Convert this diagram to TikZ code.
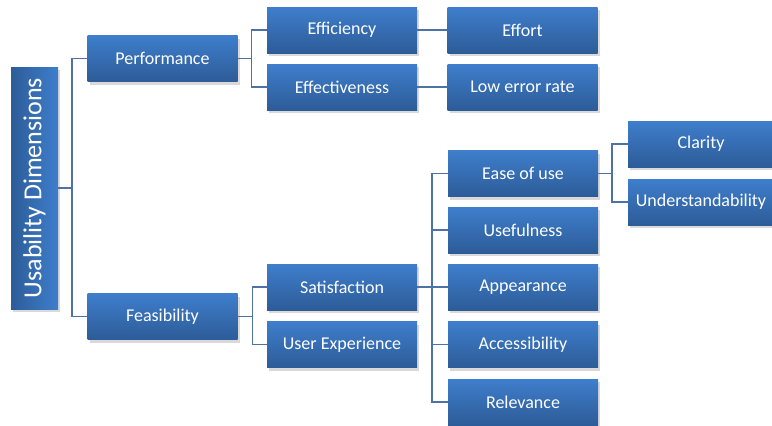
\documentclass[tikz,border=0pt]{standalone}
\usepackage{fontspec}
\setmainfont{Carlito}
\usetikzlibrary{shadows}
\definecolor{BoxTop}{RGB}{62,126,204}
\definecolor{BoxBottom}{RGB}{45,92,152}
\definecolor{LinkColor}{RGB}{76,114,166}
\tikzset{
  box/.style={rectangle, minimum width=150pt, minimum height=46pt, inner sep=2pt,
    top color=BoxTop, bottom color=BoxBottom, text=white,
    font=\fontsize{18}{21}\selectfont,
    drop shadow={shadow xshift=2pt, shadow yshift=-3pt, opacity=0.3}},
  root box/.style={box, rotate=90, minimum width=242pt, minimum height=47pt,
    left color=BoxBottom, right color=BoxTop,
    font=\fontsize{26}{30}\selectfont},
  link/.style={LinkColor, line width=1.5pt}
}

\begin{document}
\begin{tikzpicture}[x=1pt, y=-1pt]
    \useasboundingbox (0,0) rectangle (772,426);

    % Root
    \node[root box] (root) at (34.5,188) {Usability Dimensions};

    % First level
    \node[box] (perf) at (162.5,58.5) {Performance};
    \node[box] (feas) at (162.5,316.5) {Feasibility};

    % Performance branch
    \node[box] (effic) at (342,30) {Efficiency};
    \node[box] (effect) at (342,87) {Effectiveness};
    \node[box] (effort) at (522.5,30) {Effort};
    \node[box] (lowerr) at (522.5,87) {Low error rate};

    % Feasibility branch
    \node[box] (satis) at (342,287) {Satisfaction};
    \node[box] (userexp) at (342,344.5) {User Experience};

    % Satisfaction items
    \node[box] (ease) at (523,173.5) {Ease of use};
    \node[box] (useful) at (523,230) {Usefulness};
    \node[box] (appear) at (523,287) {Appearance};
    \node[box] (access) at (523,344.5) {Accessibility};
    \node[box] (relev) at (523,402) {Relevance};

    % Ease of use items
    \node[box, minimum width=146pt] (clarity) at (701,144) {Clarity};
    \node[box, minimum width=146pt] (underst) at (701,202) {Understandability};

    % Connectors
    \draw[link] (root.south) -- ++(14,0) |- (perf.west);
    \draw[link] (root.south) -- ++(14,0) |- (feas.west);
    \draw[link] (perf.east) -- ++(14,0) |- (effic.west);
    \draw[link] (perf.east) -- ++(14,0) |- (effect.west);
    \draw[link] (effic) -- (effort);
    \draw[link] (effect) -- (lowerr);
    \draw[link] (feas.east) -- ++(15,0) |- (satis.west);
    \draw[link] (feas.east) -- ++(15,0) |- (userexp.west);
    \foreach \item in {ease, useful, appear, access, relev}
        \draw[link] (satis.east) -- ++(15,0) |- (\item.west);
    \draw[link] (ease.east) -- ++(14,0) |- (clarity.west);
    \draw[link] (ease.east) -- ++(14,0) |- (underst.west);
\end{tikzpicture}
\end{document}
